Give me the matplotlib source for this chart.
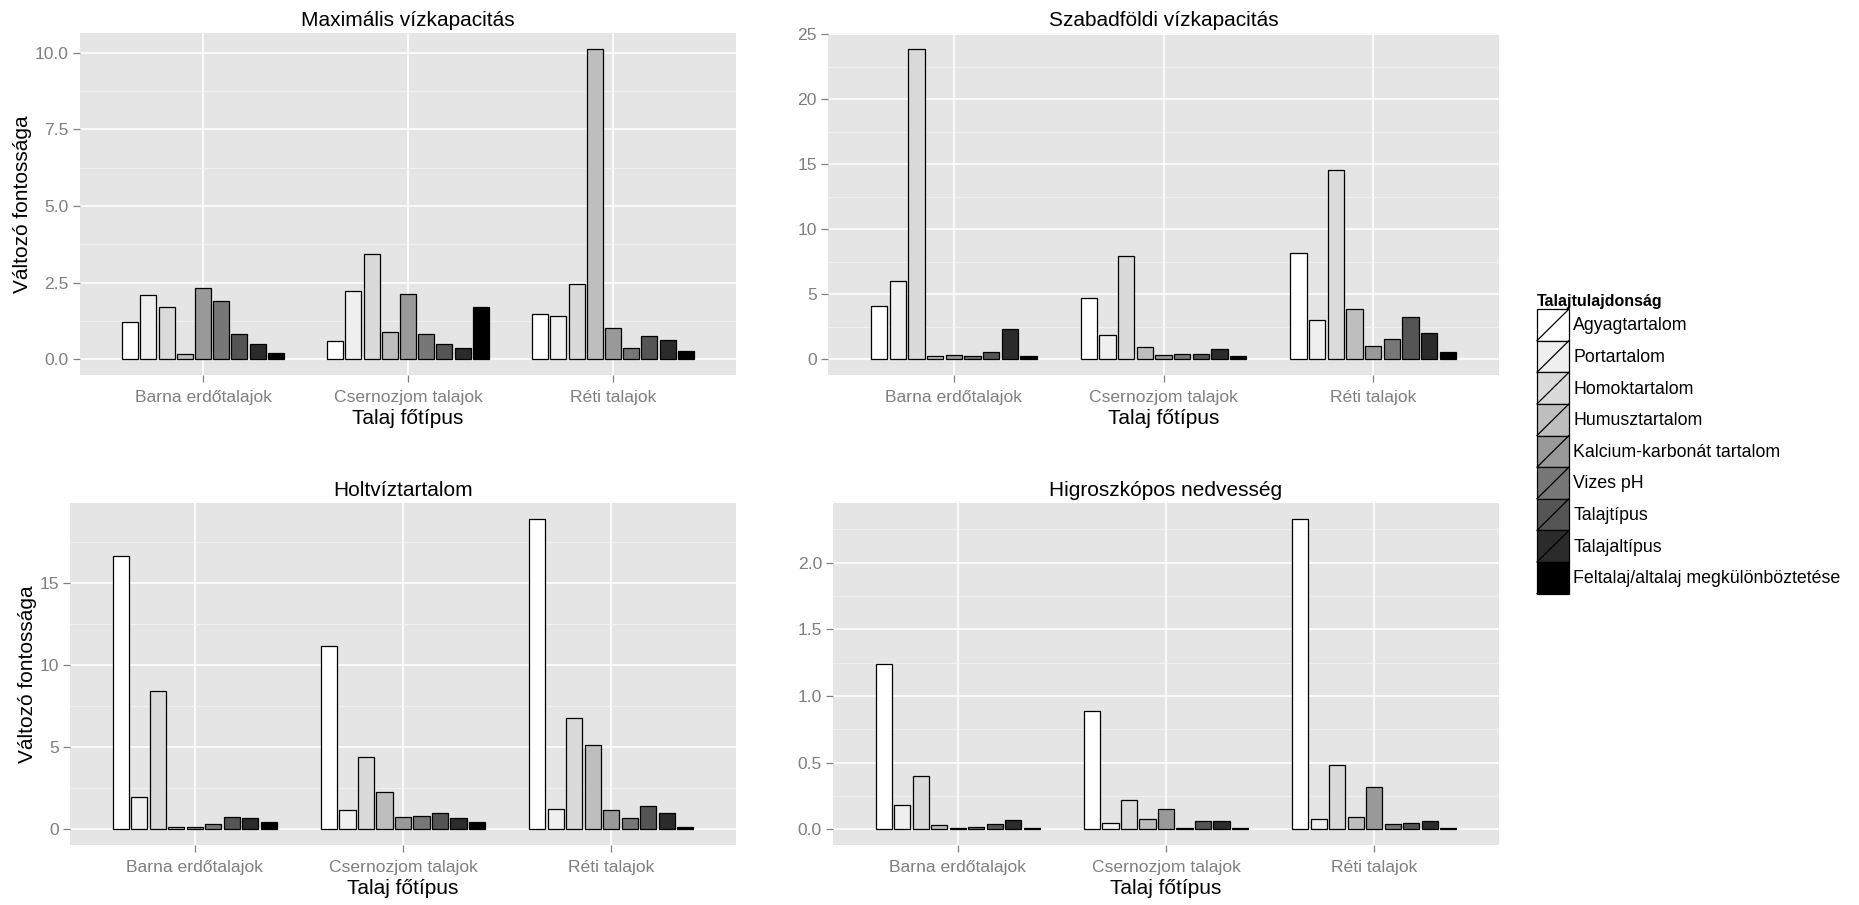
import matplotlib
matplotlib.use('Agg')
import matplotlib.pyplot as plt
import numpy as np
from matplotlib.patches import Rectangle, Patch
from matplotlib.lines import Line2D
from matplotlib.legend_handler import HandlerBase
from matplotlib.ticker import MultipleLocator, FormatStrFormatter

plt.rcParams['font.family'] = ['Liberation Sans', 'DejaVu Sans']

soil_types = ['Barna erdőtalajok', 'Csernozjom talajok', 'Réti talajok']
properties = ['Agyagtartalom', 'Portartalom', 'Homoktartalom', 'Humusztartalom',
              'Kalcium-karbonát tartalom', 'Vizes pH', 'Talajtípus', 'Talajaltípus',
              'Feltalaj/altalaj megkülönböztetése']
fills = ['#FFFFFF', '#EFEFEF', '#DADADA', '#BEBEBE', '#999999',
         '#777777', '#555555', '#2B2B2B', '#000000']

# one row per soil type, one value per property
max_vizkapacitas = [
    [1.21, 2.10, 1.71, 0.18, 2.34, 1.92, 0.82, 0.50, 0.20],
    [0.59, 2.23, 3.43, 0.89, 2.14, 0.82, 0.50, 0.37, 1.71],
    [1.48, 1.43, 2.46, 10.13, 1.02, 0.37, 0.76, 0.64, 0.29],
]
szabadfoldi_vizkapacitas = [
    [4.1, 6.0, 23.9, 0.23, 0.36, 0.23, 0.54, 2.33, 0.23],
    [4.74, 1.9, 7.92, 0.95, 0.33, 0.44, 0.44, 0.77, 0.23],
    [8.2, 3.05, 14.54, 3.9, 1.05, 1.59, 3.26, 2.03, 0.56],
]
holtviztartalom = [
    [16.65, 1.99, 8.40, 0.16, 0.16, 0.32, 0.73, 0.67, 0.43],
    [11.14, 1.16, 4.40, 2.25, 0.73, 0.81, 0.99, 0.67, 0.43],
    [18.9, 1.24, 6.75, 5.15, 1.16, 0.67, 1.40, 0.99, 0.16],
]
higroszkopos = [
    [1.24, 0.18, 0.40, 0.03, 0.01, 0.02, 0.04, 0.07, 0.01],
    [0.89, 0.05, 0.22, 0.08, 0.155, 0.01, 0.06, 0.06, 0.01],
    [2.33, 0.08, 0.48, 0.09, 0.315, 0.04, 0.05, 0.06, 0.01],
]

W, H = 1859, 905
fig = plt.figure(figsize=(W / 100, H / 100), dpi=100)

panels = [
    ('Maximális vízkapacitás', max_vizkapacitas, 2.5, '%.1f', True, (80, 33, 736, 375)),
    ('Szabadföldi vízkapacitás', szabadfoldi_vizkapacitas, 5, '%d', False, (828, 33, 1499, 375)),
    ('Holtvíztartalom', holtviztartalom, 5, '%d', True, (70, 503, 736, 845)),
    ('Higroszkópos nedvesség', higroszkopos, 0.5, '%.1f', False, (833, 503, 1499, 845)),
]

dodge = 0.8
bar_w = 0.7 / len(properties)
grey50 = '#7F7F7F'

for title, data, step, fmt, show_ylab, (x0, y0, x1, y1) in panels:
    ax = fig.add_axes([x0 / W, 1 - y1 / H, (x1 - x0) / W, (y1 - y0) / H])
    vals = np.array(data)
    pos = np.arange(1, len(soil_types) + 1)
    for k, prop in enumerate(properties):
        ax.bar(pos + (k - 4) * dodge / len(properties), vals[:, k], width=bar_w,
               color=fills[k], edgecolor='black', linewidth=0.9, zorder=3)
    ymax = vals.max()
    ax.set_ylim(-0.05 * ymax, 1.05 * ymax)
    ax.set_xlim(0.4, 3.6)
    ax.set_facecolor('#E5E5E5')
    for s in ax.spines.values():
        s.set_visible(False)
    ax.set_axisbelow(True)
    ax.yaxis.set_major_locator(MultipleLocator(step))
    ax.yaxis.set_minor_locator(MultipleLocator(step / 2))
    ax.yaxis.set_major_formatter(FormatStrFormatter(fmt))
    ax.set_xticks(pos)
    ax.set_xticklabels(soil_types)
    ax.grid(which='major', color='white', linewidth=1.2)
    ax.grid(which='minor', axis='y', color='#F2F2F2', linewidth=0.6)
    ax.tick_params(which='major', length=5, width=0.9, color=grey50,
                   labelcolor=grey50, labelsize=12.6, pad=3)
    ax.tick_params(axis='x', which='major', pad=6)
    ax.tick_params(which='minor', length=0)
    ax.set_title(title, fontsize=15, pad=5)
    ax.set_xlabel('Talaj főtípus', fontsize=15, labelpad=3)
    if show_ylab:
        ax.set_ylabel('Változó fontossága', fontsize=15, labelpad=2)


class SlashKey(HandlerBase):
    def create_artists(self, legend, orig, xdescent, ydescent, width, height, fontsize, trans):
        r = Rectangle((-xdescent, -ydescent), width, height, facecolor=orig.get_facecolor(),
                      edgecolor='black', linewidth=0.9, transform=trans)
        l = Line2D([-xdescent, -xdescent + width], [-ydescent, -ydescent + height],
                   color='black', linewidth=0.9, transform=trans)
        return [r, l]


handles = [Patch(facecolor=c, edgecolor='black') for c in fills]
fig.legend(handles, properties, handler_map={Patch: SlashKey()},
           loc='upper left', bbox_to_anchor=(1537 / W, 1 - 294 / H),
           frameon=False, fontsize=12.8, title='Talajtulajdonság',
           title_fontproperties={'weight': 'bold', 'size': 11.5}, alignment='left',
           handlelength=1.8, handleheight=2.36, labelspacing=0, handletextpad=0.25,
           borderpad=0, borderaxespad=0)

fig.savefig('out.png', dpi=100)
